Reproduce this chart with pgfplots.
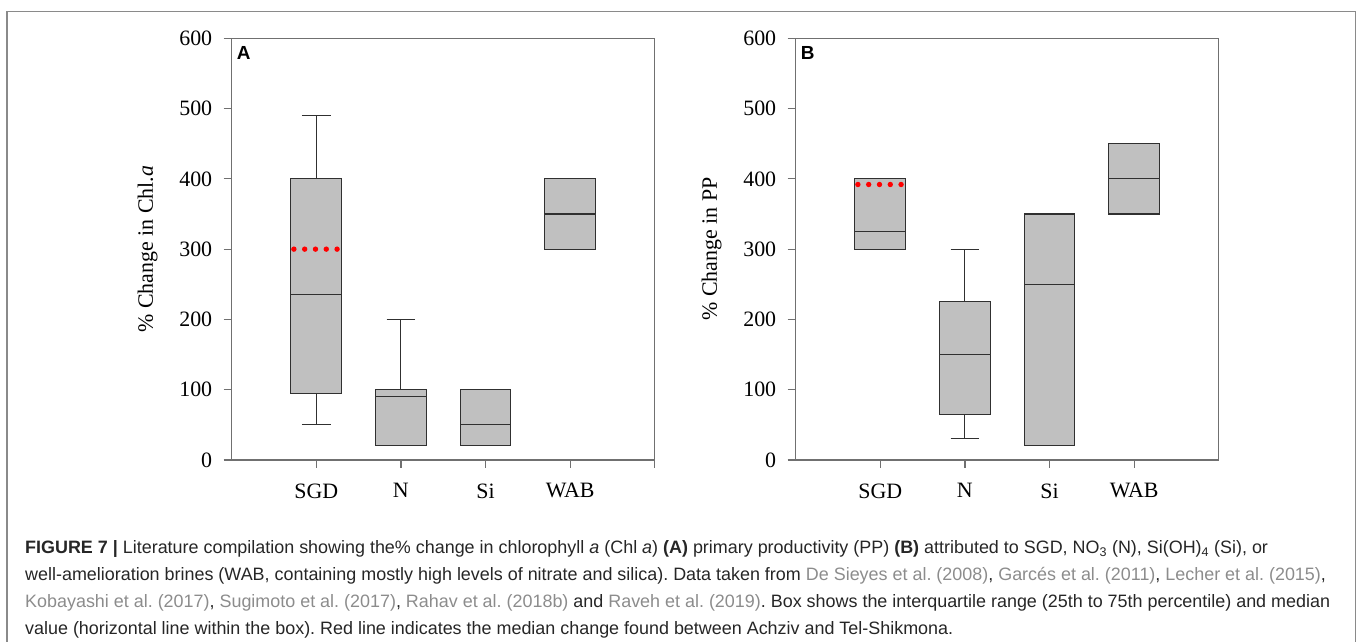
\documentclass[border=0pt]{standalone}
\usepackage{fontspec}
\setmainfont{Liberation Serif}
\newfontfamily\capfont{Liberation Sans}
\usepackage{pgfplots}
\pgfplotsset{compat=1.18}
\usepgfplotslibrary{statistics}
\definecolor{axisgray}{HTML}{707070}
\definecolor{boxline}{HTML}{303030}
\definecolor{boxfill}{HTML}{C0C0C0}
\definecolor{citegray}{HTML}{8C8C8C}
\definecolor{captext}{HTML}{262626}
\definecolor{framegray}{HTML}{8A8A8A}
\pgfplotsset{
  panel/.style={
    scale only axis, width=423bp, height=421.7bp,
    xmin=0, xmax=5, ymin=0, ymax=600,
    ytick={0,100,...,600},
    axis line style={axisgray, line width=1.2bp},
    tick style={axisgray, line width=1.2bp},
    major tick length=8bp,
    tick align=outside,
    tick pos=left,
    /pgf/number format/assume math mode=true,
    tick label style={font=\fontsize{22}{26}\selectfont},
    yticklabel style={xshift=-8bp},
    xticklabel style={yshift=-12bp},
    boxplot/draw direction=y,
    boxplot/box extend=0.6,
    boxplot/whisker extend=0.34,
    every axis y label/.style={at={(axis description cs:-0.199,0.5)}, rotate=90, anchor=center, font=\fontsize{22}{26}\selectfont},
  },
  bx/.style={draw=boxline, fill=boxfill, solid, line width=1.1bp},
  reddots/.style={red, line width=5.4bp, line cap=round, dash pattern=on 0bp off 10.8bp},
}
\begin{document}
\frenchspacing
\begin{tikzpicture}
\path[use as bounding box] (0,0) rectangle (1357bp,642bp);
\draw[framegray, line width=1.5bp] (7bp,-5bp) -- (7bp,630.3bp) -- (1355.5bp,630.3bp) -- (1355.5bp,-5bp);

% Panel A
\begin{axis}[panel, at={(231.7bp,182bp)}, anchor=south west,
  xtick={1,2,3,4,5}, xticklabels={SGD,N,Si,WAB,{}},
  ylabel={\% Change in Chl.\textit{a}}]
\addplot[bx, boxplot prepared={draw position=1, lower whisker=50, lower quartile=95, median=235, upper quartile=400, upper whisker=490}] coordinates {};
\addplot[bx, boxplot prepared={draw position=2, lower whisker=20, lower quartile=20, median=90, upper quartile=100, upper whisker=200}] coordinates {};
\addplot[bx, boxplot prepared={draw position=3, lower whisker=20, lower quartile=20, median=50, upper quartile=100, upper whisker=100}] coordinates {};
\addplot[bx, boxplot prepared={draw position=4, lower whisker=300, lower quartile=300, median=350, upper quartile=400, upper whisker=400}] coordinates {};
\addplot[reddots] coordinates {(0.735,300) (1.265,300)};
\node[anchor=north west, inner sep=0pt, font=\capfont\bfseries\fontsize{19}{19}\selectfont] at (rel axis cs:0,1) [xshift=5bp, yshift=-8bp] {A};
\end{axis}

% Panel B
\begin{axis}[panel, at={(795.7bp,182bp)}, anchor=south west,
  xtick={1,2,3,4}, xticklabels={SGD,N,Si,WAB},
  ylabel={\% Change in PP}]
\addplot[bx, boxplot prepared={draw position=1, lower whisker=300, lower quartile=300, median=325, upper quartile=400, upper whisker=400}] coordinates {};
\addplot[bx, boxplot prepared={draw position=2, lower whisker=30, lower quartile=65, median=150, upper quartile=225, upper whisker=300}] coordinates {};
\addplot[bx, boxplot prepared={draw position=3, lower whisker=20, lower quartile=20, median=250, upper quartile=350, upper whisker=350}] coordinates {};
\addplot[bx, boxplot prepared={draw position=4, lower whisker=350, lower quartile=350, median=400, upper quartile=450, upper whisker=450}] coordinates {};
\addplot[reddots] coordinates {(0.735,392) (1.265,392)};
\node[anchor=north west, inner sep=0pt, font=\capfont\bfseries\fontsize{19}{19}\selectfont] at (rel axis cs:0,1) [xshift=5bp, yshift=-8bp] {B};
\end{axis}

% Caption
\begin{scope}[every node/.style={anchor=base west, inner sep=0pt, text=captext, font=\capfont\fontsize{18}{21}\selectfont}]
\node at (25bp,88bp) {\textbf{FIGURE 7 |} Literature compilation showing the\% change in chlorophyll \textit{a} (Chl \textit{a}) \textbf{(A)} primary productivity (PP) \textbf{(B)} attributed to SGD, NO\textsubscript{3} (N), Si(OH)\textsubscript{4} (Si), or};
\node at (25bp,61bp) {well-amelioration brines (WAB, containing mostly high levels of nitrate and silica). Data taken from {\color{citegray}De Sieyes et al. (2008)}, {\color{citegray}Garcés et al. (2011)}, {\color{citegray}Lecher et al. (2015)},};
\node at (25bp,35bp) {{\color{citegray}Kobayashi et al. (2017)}, {\color{citegray}Sugimoto et al. (2017)}, {\color{citegray}Rahav et al. (2018b)} and {\color{citegray}Raveh et al. (2019)}. Box shows the interquartile range (25th to 75th percentile) and median};
\node at (25bp,8bp) {value (horizontal line within the box). Red line indicates the median change found between Achziv and Tel-Shikmona.};
\end{scope}
\end{tikzpicture}
\end{document}
